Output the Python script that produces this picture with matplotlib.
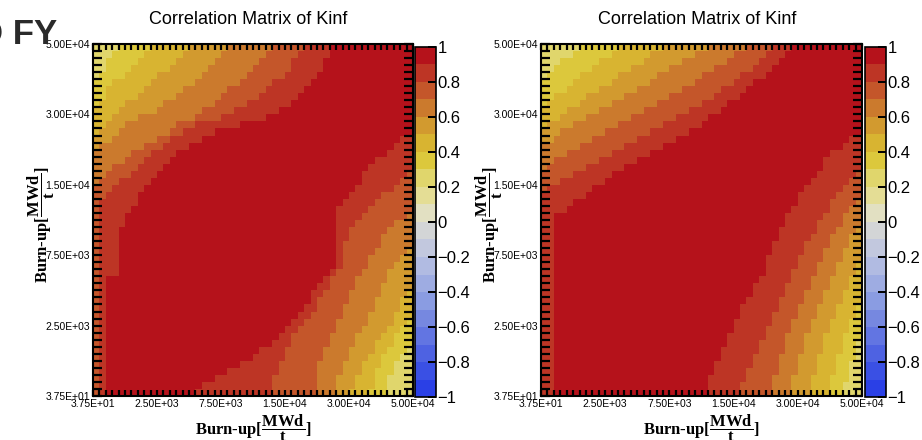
import numpy as np
import matplotlib
matplotlib.use("Agg")
import matplotlib.pyplot as plt
from matplotlib.colors import ListedColormap, BoundaryNorm

plt.rcParams['font.family'] = ['Liberation Sans', 'DejaVu Sans']
plt.rcParams['mathtext.fontset'] = 'custom'
plt.rcParams['mathtext.rm'] = 'Liberation Serif:bold'
plt.rcParams['mathtext.bf'] = 'Liberation Serif:bold'
plt.rcParams['mathtext.it'] = 'Liberation Serif:bold'

nbins = 50
tick_pos = [0, 10, 20, 30, 40, 50]
tick_labels = ['3.75E+01', '2.50E+03', '7.50E+03', '1.50E+04', '3.00E+04', '5.00E+04']
cbar_ticks = [-1, -0.8, -0.6, -0.4, -0.2, 0, 0.2, 0.4, 0.6, 0.8, 1]
cbar_labels = ['\u22121', '\u22120.8', '\u22120.6', '\u22120.4', '\u22120.2', '0',
               '0.2', '0.4', '0.6', '0.8', '1']
# palette, one colour per 0.1 step from -1 to 1
level_colors = ['#2a40e6', '#3a50e4', '#4e62e2', '#6275e2', '#7688e0', '#8a9ce2', '#9eace2',
                '#b1bbe2', '#c2c8de', '#d3d5d6', '#e2e0c2', '#e4dd95', '#e0d66c', '#dcc83c',
                '#d8b431', '#d29a2f', '#cb7a2d', '#c4562a', '#bd3525', '#b5121b']

# colour-band edges, row by row (row 0 = top = 5.00E+04)
# *_ul[L][r]: first column whose level is >= L (upper-left corner)
# *_lr[L][r]: first column whose level is <= L (lower-right corner), 50 = none
left_ul = {
    3: [4, 3, 2, 2, 1, 0, 0, 0, 0, 0, 0, 0, 0, 0, 0, 0, 0, 0, 0, 0, 0, 0, 0, 0, 0,
        0, 0, 0, 0, 0, 0, 0, 0, 0, 0, 0, 0, 0, 0, 0, 0, 0, 0, 0, 0, 0, 0, 0, 0, 0],
    4: [9, 8, 7, 6, 5, 3, 2, 2, 1, 0, 0, 0, 0, 0, 0, 0, 0, 0, 0, 0, 0, 0, 0, 0, 0,
        0, 0, 0, 0, 0, 0, 0, 0, 0, 0, 0, 0, 0, 0, 0, 0, 0, 0, 0, 0, 0, 0, 0, 0, 0],
    5: [15, 14, 13, 12, 10, 9, 8, 7, 5, 4, 3, 2, 1, 0, 0, 0, 0, 0, 0, 0, 0, 0, 0, 0, 0,
        0, 0, 0, 0, 0, 0, 0, 0, 0, 0, 0, 0, 0, 0, 0, 0, 0, 0, 0, 0, 0, 0, 0, 0, 0],
    6: [21, 20, 19, 18, 17, 16, 14, 13, 11, 10, 7, 5, 4, 3, 1, 0, 0, 0, 0, 0, 0, 0, 0, 0, 0,
        0, 0, 0, 0, 0, 0, 0, 0, 0, 0, 0, 0, 0, 0, 0, 0, 0, 0, 0, 0, 0, 0, 0, 0, 0],
    7: [28, 27, 26, 25, 24, 23, 21, 20, 19, 17, 16, 13, 12, 10, 8, 6, 5, 3, 2, 1, 0, 0, 0, 0, 0,
        0, 0, 0, 0, 0, 0, 0, 0, 0, 0, 0, 0, 0, 0, 0, 0, 0, 0, 0, 0, 0, 0, 0, 0, 0],
    8: [33, 32, 31, 31, 30, 28, 27, 26, 24, 22, 20, 16, 14, 12, 11, 9, 8, 7, 6, 4, 3, 2, 1, 1, 1,
        1, 1, 1, 1, 1, 1, 1, 1, 1, 1, 1, 1, 1, 1, 1, 1, 1, 1, 1, 1, 1, 1, 1, 1, 1],
    9: [37, 37, 36, 36, 35, 34, 33, 32, 31, 29, 27, 23, 19, 17, 15, 13, 12, 11, 10, 9, 8, 7, 7, 6, 5,
        5, 4, 4, 4, 4, 4, 4, 4, 2, 2, 2, 2, 2, 2, 2, 2, 2, 2, 2, 2, 2, 2, 2, 2, 2],
}
left_lr = {
    8: [50, 50, 50, 50, 50, 50, 50, 50, 50, 50, 50, 50, 50, 48, 47, 46, 44, 43, 42, 42,
        41, 40, 39, 38, 38, 38, 38, 38, 38, 38, 38, 38, 37, 36, 35, 34, 34, 33, 32, 31,
        30, 29, 28, 26, 25, 23, 21, 19, 17, 16],
    7: [50, 50, 50, 50, 50, 50, 50, 50, 50, 50, 50, 50, 50, 50, 50, 50, 50, 50, 49, 48,
        47, 45, 44, 43, 42, 41, 40, 40, 39, 39, 39, 39, 38, 37, 37, 36, 35, 35, 34, 33,
        32, 31, 31, 30, 30, 29, 29, 28, 28, 28],
    6: [50, 50, 50, 50, 50, 50, 50, 50, 50, 50, 50, 50, 50, 50, 50, 50, 50, 50, 50, 50,
        50, 50, 50, 50, 49, 47, 46, 45, 45, 44, 43, 43, 42, 41, 41, 40, 40, 39, 39, 38,
        38, 37, 37, 36, 36, 35, 35, 35, 35, 35],
    5: [50, 50, 50, 50, 50, 50, 50, 50, 50, 50, 50, 50, 50, 50, 50, 50, 50, 50, 50, 50,
        50, 50, 50, 50, 50, 50, 50, 50, 50, 49, 48, 47, 46, 46, 45, 45, 44, 44, 43, 43,
        42, 41, 41, 40, 40, 39, 39, 38, 38, 38],
    4: [50, 50, 50, 50, 50, 50, 50, 50, 50, 50, 50, 50, 50, 50, 50, 50, 50, 50, 50, 50,
        50, 50, 50, 50, 50, 50, 50, 50, 50, 50, 50, 50, 50, 50, 50, 49, 48, 48, 47, 47,
        46, 45, 44, 44, 43, 42, 42, 41, 41, 40],
    3: [50, 50, 50, 50, 50, 50, 50, 50, 50, 50, 50, 50, 50, 50, 50, 50, 50, 50, 50, 50,
        50, 50, 50, 50, 50, 50, 50, 50, 50, 50, 50, 50, 50, 50, 50, 50, 50, 50, 50, 49,
        48, 47, 47, 46, 45, 45, 44, 44, 44, 43],
    2: [50, 50, 50, 50, 50, 50, 50, 50, 50, 50, 50, 50, 50, 50, 50, 50, 50, 50, 50, 50,
        50, 50, 50, 50, 50, 50, 50, 50, 50, 50, 50, 50, 50, 50, 50, 50, 50, 50, 50, 50,
        50, 50, 50, 49, 48, 47, 47, 46, 46, 46],
}

right_ul = {
    3: [6, 5, 3, 2, 1, 0, 0, 0, 0, 0, 0, 0, 0, 0, 0, 0, 0, 0, 0, 0, 0, 0, 0, 0, 0,
        0, 0, 0, 0, 0, 0, 0, 0, 0, 0, 0, 0, 0, 0, 0, 0, 0, 0, 0, 0, 0, 0, 0, 0, 0],
    4: [12, 11, 9, 8, 6, 5, 4, 2, 1, 0, 0, 0, 0, 0, 0, 0, 0, 0, 0, 0, 0, 0, 0, 0, 0,
        0, 0, 0, 0, 0, 0, 0, 0, 0, 0, 0, 0, 0, 0, 0, 0, 0, 0, 0, 0, 0, 0, 0, 0, 0],
    5: [19, 17, 16, 14, 12, 11, 9, 7, 6, 4, 3, 1, 0, 0, 0, 0, 0, 0, 0, 0, 0, 0, 0, 0, 0,
        0, 0, 0, 0, 0, 0, 0, 0, 0, 0, 0, 0, 0, 0, 0, 0, 0, 0, 0, 0, 0, 0, 0, 0, 0],
    6: [26, 24, 22, 20, 18, 17, 15, 13, 11, 9, 7, 5, 3, 2, 0, 0, 0, 0, 0, 0, 0, 0, 0, 0, 0,
        0, 0, 0, 0, 0, 0, 0, 0, 0, 0, 0, 0, 0, 0, 0, 0, 0, 0, 0, 0, 0, 0, 0, 0, 0],
    7: [32, 30, 29, 27, 25, 24, 22, 20, 18, 16, 14, 12, 10, 8, 6, 4, 2, 1, 0, 0, 0, 0, 0, 0, 0,
        0, 0, 0, 0, 0, 0, 0, 0, 0, 0, 0, 0, 0, 0, 0, 0, 0, 0, 0, 0, 0, 0, 0, 0, 0],
    8: [36, 35, 34, 33, 31, 30, 28, 27, 25, 23, 21, 19, 17, 15, 13, 11, 9, 7, 5, 3, 1, 0, 0, 0, 0,
        0, 0, 0, 0, 0, 0, 0, 0, 0, 0, 0, 0, 0, 0, 0, 0, 0, 0, 0, 0, 0, 0, 0, 0, 0],
    9: [39, 38, 37, 36, 35, 33, 32, 31, 29, 28, 26, 25, 23, 21, 19, 17, 15, 13, 11, 10, 8, 7, 5, 4, 2,
        2, 2, 2, 2, 2, 2, 2, 2, 2, 2, 2, 2, 2, 2, 2, 2, 2, 2, 2, 2, 2, 2, 2, 2, 2],
}
right_lr = {
    8: [50, 50, 50, 50, 50, 50, 50, 50, 50, 50, 50, 50, 50, 48, 47, 45, 44, 44, 43, 42,
        41, 40, 40, 39, 38, 38, 37, 37, 36, 36, 35, 35, 35, 34, 33, 33, 32, 31, 31, 30,
        30, 29, 29, 28, 28, 27, 27, 26, 26, 26],
    7: [50, 50, 50, 50, 50, 50, 50, 50, 50, 50, 50, 50, 50, 50, 50, 50, 50, 50, 49, 48,
        47, 46, 45, 45, 44, 43, 43, 42, 41, 41, 40, 40, 39, 39, 38, 38, 37, 37, 36, 36,
        35, 35, 34, 34, 33, 33, 32, 32, 31, 31],
    6: [50, 50, 50, 50, 50, 50, 50, 50, 50, 50, 50, 50, 50, 50, 50, 50, 50, 50, 50, 50,
        50, 50, 49, 48, 47, 47, 46, 45, 45, 44, 44, 43, 43, 42, 42, 41, 41, 40, 40, 39,
        39, 38, 38, 38, 37, 37, 37, 36, 36, 36],
    5: [50, 50, 50, 50, 50, 50, 50, 50, 50, 50, 50, 50, 50, 50, 50, 50, 50, 50, 50, 50,
        50, 50, 50, 50, 50, 50, 49, 48, 48, 47, 47, 46, 46, 45, 45, 44, 44, 43, 43, 42,
        42, 41, 41, 41, 40, 40, 40, 39, 39, 39],
    4: [50, 50, 50, 50, 50, 50, 50, 50, 50, 50, 50, 50, 50, 50, 50, 50, 50, 50, 50, 50,
        50, 50, 50, 50, 50, 50, 50, 50, 50, 50, 50, 49, 49, 48, 48, 47, 47, 46, 46, 45,
        45, 44, 44, 44, 43, 43, 43, 42, 42, 42],
    3: [50, 50, 50, 50, 50, 50, 50, 50, 50, 50, 50, 50, 50, 50, 50, 50, 50, 50, 50, 50,
        50, 50, 50, 50, 50, 50, 50, 50, 50, 50, 50, 50, 50, 50, 50, 50, 50, 49, 49, 48,
        48, 47, 47, 47, 46, 46, 46, 45, 45, 45],
    2: [50, 50, 50, 50, 50, 50, 50, 50, 50, 50, 50, 50, 50, 50, 50, 50, 50, 50, 50, 50,
        50, 50, 50, 50, 50, 50, 50, 50, 50, 50, 50, 50, 50, 50, 50, 50, 50, 50, 50, 50,
        50, 50, 49, 49, 49, 48, 48, 48, 47, 47],
}


def build_matrix(ul, lr):
    cols = np.arange(nbins)
    z = np.zeros((nbins, nbins))
    for r in range(nbins):
        lev = np.full(nbins, 2)
        for L in range(3, 10):
            lev = np.where(cols >= ul[L][r], L, lev)
        for L in range(8, 1, -1):
            lev = np.where(cols >= lr[L][r], np.minimum(lev, L), lev)
        z[r] = lev / 10 + 0.05
    return z[::-1]  # row 0 at the bottom for pcolormesh


cmap = ListedColormap(level_colors)
norm = BoundaryNorm(np.linspace(-1, 1, 21), cmap.N)

fig = plt.figure(figsize=(9.22, 4.4), dpi=100)

panels = [
    (left_ul, left_lr, [93 / 922, 44 / 440, 320 / 922, 352 / 440], [415 / 922, 43 / 440, 21 / 922, 350 / 440]),
    (right_ul, right_lr, [541 / 922, 44 / 440, 321 / 922, 352 / 440], [865 / 922, 43 / 440, 21 / 922, 350 / 440]),
]

edges = np.arange(nbins + 1)
for ul, lr, ax_rect, cb_rect in panels:
    ax = fig.add_axes(ax_rect)
    z = build_matrix(ul, lr)
    mesh = ax.pcolormesh(edges, edges, z, cmap=cmap, norm=norm, edgecolors='none',
                         antialiased=False)
    ax.set_xlim(0, nbins)
    ax.set_ylim(0, nbins)
    ax.set_xticks(tick_pos)
    ax.set_xticklabels(tick_labels)
    ax.set_yticks(tick_pos)
    ax.set_yticklabels(tick_labels)
    ax.set_xticks(edges, minor=True)
    ax.set_yticks(edges, minor=True)
    ax.tick_params(axis='x', which='both', direction='in', top=True, bottom=True,
                   length=4.5, width=1.6, labelsize=7.5, pad=2.5, colors='black')
    ax.tick_params(axis='y', which='both', direction='in', left=True, right=True,
                   length=6.5, width=1.6, labelsize=7.5, pad=2, colors='black')
    for s in ax.spines.values():
        s.set_linewidth(1.5)

    cax = fig.add_axes(cb_rect)
    cb = fig.colorbar(mesh, cax=cax, ticks=cbar_ticks)
    cb.ax.set_yticklabels(cbar_labels)
    cb.ax.tick_params(direction='in', length=6, width=1.4, labelsize=12, pad=1)
    cb.ax.minorticks_off()
    cb.outline.set_linewidth(1.2)

    cx = ax_rect[0] + ax_rect[2] / 2
    fig.text(cx - 0.005, 1 - 19 / 440, 'Correlation Matrix of Kinf', ha='center', va='center',
             fontsize=13)
    xlab = 'Burn-up[$\\dfrac{\\mathrm{MWd}}{\\mathrm{t}}$]'
    fig.text(cx, 1 - 428 / 440, xlab, ha='center', va='center', fontsize=12,
             family='Liberation Serif', weight='bold')
    fig.text(ax_rect[0] - 52 / 922, ax_rect[1] + ax_rect[3] / 2 - 0.01, xlab, ha='center',
             va='center', rotation=90, fontsize=12, family='Liberation Serif', weight='bold')

fig.text(-22 / 922, 1 - 35 / 440, 'D FY', ha='left', va='center', fontsize=25,
         weight='bold', color='#2a2a2a')

fig.savefig('out.png', dpi=100)
